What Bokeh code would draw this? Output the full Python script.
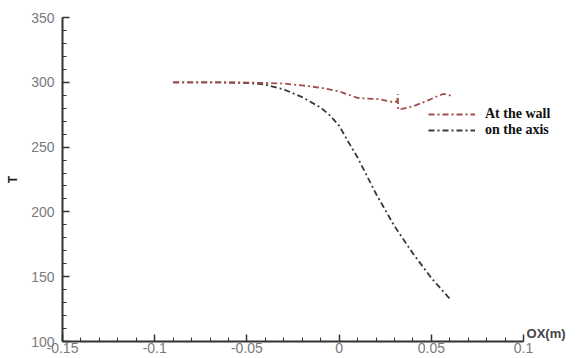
from bokeh.plotting import figure
from bokeh.models import FixedTicker, Legend, LegendItem, Label, Range1d
from bokeh.embed import file_html
from bokeh.resources import INLINE

# ---- data ----
x_wall = [-0.09, -0.08, -0.07, -0.06, -0.05, -0.04, -0.03, -0.02, -0.01, 0.0,
          0.005, 0.01, 0.015, 0.022, 0.028, 0.0315, 0.0318, 0.032, 0.034,
          0.04, 0.044, 0.049, 0.052, 0.0564, 0.06, 0.0605]
t_wall = [300, 300, 300, 300, 299.8, 299.5, 299, 297.6, 295.8, 293,
          290.5, 288, 287.5, 287, 285, 285, 291, 279, 279.5,
          281.5, 283.6, 286.5, 288.5, 291, 290, 287.5]

x_axis = [-0.09, -0.08, -0.07, -0.06, -0.05, -0.045, -0.04, -0.03, -0.02, -0.01,
          -0.005, 0.0, 0.005, 0.01, 0.02, 0.03, 0.04, 0.05, 0.06]
t_axis = [300, 300, 300, 299.8, 299.4, 299, 298.2, 294.5, 288.5, 280.5,
          274.5, 266.5, 254, 242, 214, 189, 168, 149, 133]

x_ticks = [-0.15, -0.1, -0.05, 0, 0.05, 0.1]
x_labels = {-0.15: "-0.15", -0.1: "-0.1", -0.05: "-0.05", 0: "0", 0.05: "0.05", 0.1: "0.1"}
y_ticks = [100, 150, 200, 250, 300, 350]
x_minor = [round(-0.15 + 0.01 * i, 2) for i in range(26)]
y_minor = [100 + 10 * i for i in range(26)]

p = figure(width=578, height=358, output_backend="svg", toolbar_location=None,
           x_range=Range1d(-0.15, 0.1298), y_range=Range1d(100, 350),
           min_border_left=62, min_border_right=0, min_border_top=17, min_border_bottom=17)
p.outline_line_color = None
p.xgrid.visible = False
p.ygrid.visible = False
p.background_fill_color = "white"
p.border_fill_color = "white"

for ax in (p.xaxis[0], p.yaxis[0]):
    ax.axis_line_color = "#333333"
    ax.axis_line_width = 2
    ax.major_tick_line_color = "#333333"
    ax.minor_tick_line_color = "#333333"
    ax.major_tick_line_width = 1.5
    ax.major_tick_in = 7
    ax.major_tick_out = 0
    ax.minor_tick_in = 4
    ax.minor_tick_out = 0
    ax.major_label_text_font = "Liberation Sans"
    ax.major_label_text_font_size = "14px"
    ax.major_label_text_color = "#7a7a7a"

p.xaxis[0].ticker = FixedTicker(ticks=x_ticks, minor_ticks=x_minor)
p.xaxis[0].major_label_overrides = x_labels
p.xaxis[0].major_label_standoff = 1
p.xaxis[0].bounds = (-0.15, 0.1)
p.yaxis[0].ticker = FixedTicker(ticks=y_ticks, minor_ticks=y_minor)
p.yaxis[0].major_label_standoff = 8
p.yaxis[0].axis_label = "T"
p.yaxis[0].axis_label_standoff = 8
p.yaxis[0].axis_label_text_font = "Liberation Sans"
p.yaxis[0].axis_label_text_font_style = "bold"
p.yaxis[0].axis_label_text_font_size = "12px"
p.yaxis[0].axis_label_text_color = "#222222"

r_axis = p.line(x_axis, t_axis, line_color="#3a3a3a", line_width=1.8, line_dash="6 3 2 3")
r_wall = p.line(x_wall, t_wall, line_color="#a04e4a", line_width=1.8, line_dash="6 3 2 3")

legend = Legend(items=[LegendItem(label="At the wall", renderers=[r_wall]),
                       LegendItem(label="on the axis", renderers=[r_axis])],
                location=(366, 203), orientation="vertical",
                border_line_color=None, background_fill_alpha=0,
                padding=0, margin=0, spacing=0, glyph_width=47, glyph_height=14,
                label_height=14, label_standoff=10,
                label_text_font="Liberation Serif", label_text_font_style="bold",
                label_text_font_size="14px", label_text_color="#111111")
p.add_layout(legend, "center")

p.add_layout(Label(x=0.1, y=100, x_offset=3, y_offset=1, text="OX(m)", text_baseline="bottom",
                   text_font="Liberation Sans", text_font_style="bold",
                   text_font_size="13px", text_color="#444444"))

open("out.html", "w").write(file_html(p, INLINE))
